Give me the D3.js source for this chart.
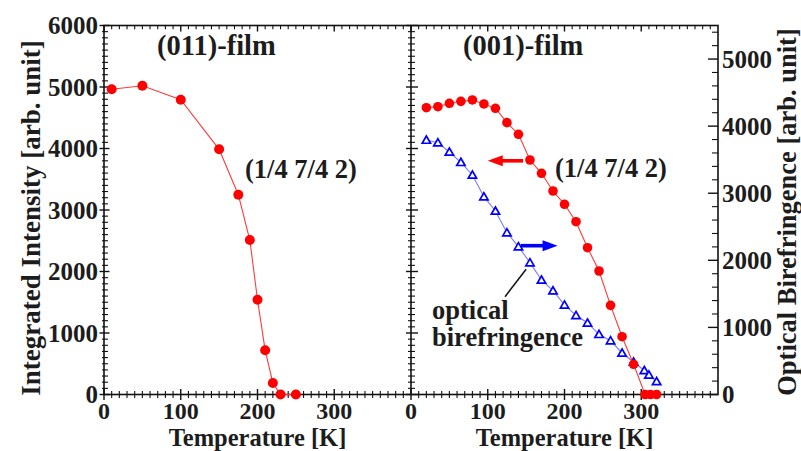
<!DOCTYPE html>
<html>
<head>
<meta charset="utf-8">
<script src="https://cdn.jsdelivr.net/npm/d3@7"></script>
<style>
  html, body { margin: 0; padding: 0; background: #fff; }
  svg text { font-family: "Liberation Serif", "Times New Roman", serif; font-weight: bold; fill: #1c1c1c; }
</style>
</head>
<body>
<svg id="chart" width="801" height="451"></svg>
<script>
// (011)-film: integrated intensity of the (1/4 7/4 2) reflection
const tempFilm011 = [10, 50, 100, 150, 175, 190, 200, 210, 220, 230, 250];
const intFilm011  = [4963, 5020, 4793, 3987, 3249, 2512, 1541, 719, 187, 0, 0];

// (001)-film: integrated intensity of the (1/4 7/4 2) reflection (left axis)
const tempFilm001 = [20, 35, 50, 65, 80, 95, 110, 125, 140, 155, 170, 185, 200, 215, 230, 245, 260, 275, 290, 305, 312, 320];
const intFilm001  = [4663, 4680, 4735, 4767, 4789, 4724, 4654, 4420, 4231, 3813, 3597, 3309, 3093, 2810, 2387, 2008, 1450, 940, 491, 0, 0, 0];

// (001)-film: optical birefringence (right axis)
const tempBiref = [20, 35, 50, 65, 80, 95, 110, 125, 140, 155, 170, 185, 200, 215, 230, 245, 260, 275, 290, 304, 310, 320];
const biref     = [3793, 3753, 3615, 3461, 3272, 2948, 2735, 2412, 2203, 1965, 1707, 1547, 1335, 1180, 1066, 897, 802, 619, 484, 358, 291, 194];

// axis tick labels
const tempTicks  = [0, 100, 200, 300];
const leftTicks  = [0, 1000, 2000, 3000, 4000, 5000, 6000];
const rightTicks = [0, 1000, 2000, 3000, 4000, 5000];

const svg = d3.select("#chart");
svg.append("rect").attr("width", 801).attr("height", 451).attr("fill", "#fff");

const plotTop = 25.5, plotBottom = 394.5;
const xLeft  = d3.scaleLinear().domain([0, 400]).range([104, 411]);
const xRight = d3.scaleLinear().domain([0, 400]).range([411, 718]);
const yInt   = d3.scaleLinear().domain([0, 6000]).range([plotBottom, plotTop]);
const yBir   = d3.scaleLinear().domain([0, 5500]).range([plotBottom, plotTop]);

const axes = svg.append("g").attr("stroke", "#111").attr("fill", "none");

// frame
axes.append("rect")
  .attr("x", xLeft(0)).attr("y", plotTop)
  .attr("width", xRight(400) - xLeft(0)).attr("height", plotBottom - plotTop)
  .attr("stroke-width", 1.6);
axes.append("line")
  .attr("x1", xRight(0)).attr("x2", xRight(0)).attr("y1", plotTop).attr("y2", plotBottom)
  .attr("stroke-width", 1.6);

// temperature ticks: crossing at bottom, inward at top
[xLeft, xRight].forEach(x => {
  d3.range(0, 400, 10).forEach(t => {
    const major = t % 100 === 0;
    const b = major ? 5.5 : 3.5;
    axes.append("line")
      .attr("x1", x(t)).attr("x2", x(t))
      .attr("y1", yInt(0) - b).attr("y2", yInt(0) + b)
      .attr("stroke-width", major ? 1.4 : 1.1);
    axes.append("line")
      .attr("x1", x(t)).attr("x2", x(t))
      .attr("y1", plotTop).attr("y2", plotTop + (major ? 6 : 3.8))
      .attr("stroke-width", major ? 1.4 : 1.1);
  });
});

// intensity ticks on the left axis and the shared middle axis
d3.range(0, 6001, 100).forEach(v => {
  const major = v % 1000 === 0;
  axes.append("line")
    .attr("x1", xLeft(0) - (major ? 4.5 : 2)).attr("x2", xLeft(0) + (major ? 5.5 : 4))
    .attr("y1", yInt(v)).attr("y2", yInt(v))
    .attr("stroke-width", major ? 1.4 : 1.1);
  axes.append("line")
    .attr("x1", xRight(0) - (major ? 5 : 3)).attr("x2", xRight(0) + (major ? 7 : 4))
    .attr("y1", yInt(v)).attr("y2", yInt(v))
    .attr("stroke-width", major ? 1.4 : 1.1);
});

// birefringence ticks on the right axis, pointing inward
d3.range(0, 5500, 200).forEach(v => {
  const major = v % 1000 === 0;
  axes.append("line")
    .attr("x1", xRight(400) - (major ? 10 : 6)).attr("x2", xRight(400))
    .attr("y1", yBir(v)).attr("y2", yBir(v))
    .attr("stroke-width", major ? 1.4 : 1.1);
});

// tick labels
const fs = 25;
[xLeft, xRight].forEach(x => {
  svg.append("g").selectAll("text").data(tempTicks).join("text")
    .attr("x", d => x(d)).attr("y", 418.5)
    .attr("text-anchor", "middle").attr("font-size", 24)
    .text(d => d);
});
svg.append("g").selectAll("text").data(leftTicks).join("text")
  .attr("x", 98).attr("y", d => yInt(d)).attr("dy", "0.35em")
  .attr("text-anchor", "end").attr("font-size", fs)
  .text(d => d);
svg.append("g").selectAll("text").data(rightTicks).join("text")
  .attr("x", 722).attr("y", d => yBir(d)).attr("dy", "0.35em")
  .attr("text-anchor", "start").attr("font-size", fs)
  .text(d => d);

// axis titles
[xLeft, xRight].forEach(x => {
  svg.append("text")
    .attr("x", (x(0) + x(400)) / 2).attr("y", 445.6)
    .attr("text-anchor", "middle").attr("font-size", 24.5)
    .text("Temperature [K]");
});
svg.append("text")
  .attr("transform", "translate(31,218) rotate(-90)")
  .attr("text-anchor", "middle").attr("dominant-baseline", "central").attr("font-size", 27)
  .text("Integrated Intensity [arb. unit]");
svg.append("text")
  .attr("transform", "translate(787,212) rotate(-90)")
  .attr("text-anchor", "middle").attr("dominant-baseline", "central").attr("font-size", 26.5)
  .text("Optical Birefringence [arb. unit]");

// panel labels
svg.append("text").attr("x", 157).attr("y", 55).attr("font-size", 28.5).text("(011)-film");
svg.append("text").attr("x", 463).attr("y", 55).attr("font-size", 28.5).text("(001)-film");
svg.append("text").attr("x", 245).attr("y", 178).attr("font-size", 26.5).text("(1/4 7/4 2)");
svg.append("text").attr("x", 555).attr("y", 177).attr("font-size", 26.5).text("(1/4 7/4 2)");
svg.append("text").attr("x", 432).attr("y", 319).attr("font-size", 26.5).text("optical");
svg.append("text").attr("x", 432).attr("y", 346).attr("font-size", 26.5).text("birefringence");

const red = "#ff0000", blue = "#0000ff";

// (011)-film curve
const line011 = d3.line().x(d => xLeft(d[0])).y(d => yInt(d[1]));
const pts011 = tempFilm011.map((t, i) => [t, intFilm011[i]]);
svg.append("path").attr("d", line011(pts011))
  .attr("fill", "none").attr("stroke", "#ff3a3a").attr("stroke-width", 1.1);
svg.append("g").selectAll("circle").data(pts011).join("circle")
  .attr("cx", d => xLeft(d[0])).attr("cy", d => yInt(d[1])).attr("r", 5)
  .attr("fill", red);

// (001)-film birefringence curve
const ptsBir = tempBiref.map((t, i) => [t, biref[i]]);
const lineBir = d3.line().x(d => xRight(d[0])).y(d => yBir(d[1]));
svg.append("path").attr("d", lineBir(ptsBir))
  .attr("fill", "none").attr("stroke", "#7a7aff").attr("stroke-width", 1.1);
const tri = d3.symbol().type(d3.symbolTriangle).size(30);
svg.append("g").selectAll("path").data(ptsBir).join("path")
  .attr("transform", d => `translate(${xRight(d[0])},${yBir(d[1]) + 0.8})`)
  .attr("d", tri)
  .attr("fill", "#fff").attr("stroke", blue).attr("stroke-width", 1.7);

// (001)-film intensity curve
const pts001 = tempFilm001.map((t, i) => [t, intFilm001[i]]);
const line001 = d3.line().x(d => xRight(d[0])).y(d => yInt(d[1]));
svg.append("path").attr("d", line001(pts001))
  .attr("fill", "none").attr("stroke", "#ff3a3a").attr("stroke-width", 1.1);
svg.append("g").selectAll("circle").data(pts001).join("circle")
  .attr("cx", d => xRight(d[0])).attr("cy", d => yInt(d[1])).attr("r", 4.8)
  .attr("fill", red);

// arrows pointing to the axis each curve belongs to
function arrow(x1, y1, x2, y2, color) {
  const dir = Math.sign(x2 - x1);
  const headLen = 15, headHalf = 5.5;
  svg.append("line")
    .attr("x1", x1).attr("y1", y1).attr("x2", x2 - dir * (headLen - 2)).attr("y2", y2)
    .attr("stroke", color).attr("stroke-width", 3.6);
  svg.append("path")
    .attr("d", `M${x2},${y2} L${x2 - dir * headLen},${y2 - headHalf} L${x2 - dir * headLen},${y2 + headHalf} Z`)
    .attr("fill", color);
}
arrow(xRight(146), yInt(3800), xRight(100), yInt(3800), red);
arrow(xRight(143), yBir(2218), xRight(191), yBir(2218), blue);

// leader from the label to the birefringence curve
svg.append("line")
  .attr("x1", xRight(122.5)).attr("y1", yBir(1458))
  .attr("x2", xRight(150)).attr("y2", yBir(1866))
  .attr("stroke", "#111").attr("stroke-width", 1.5);
</script>
</body>
</html>
